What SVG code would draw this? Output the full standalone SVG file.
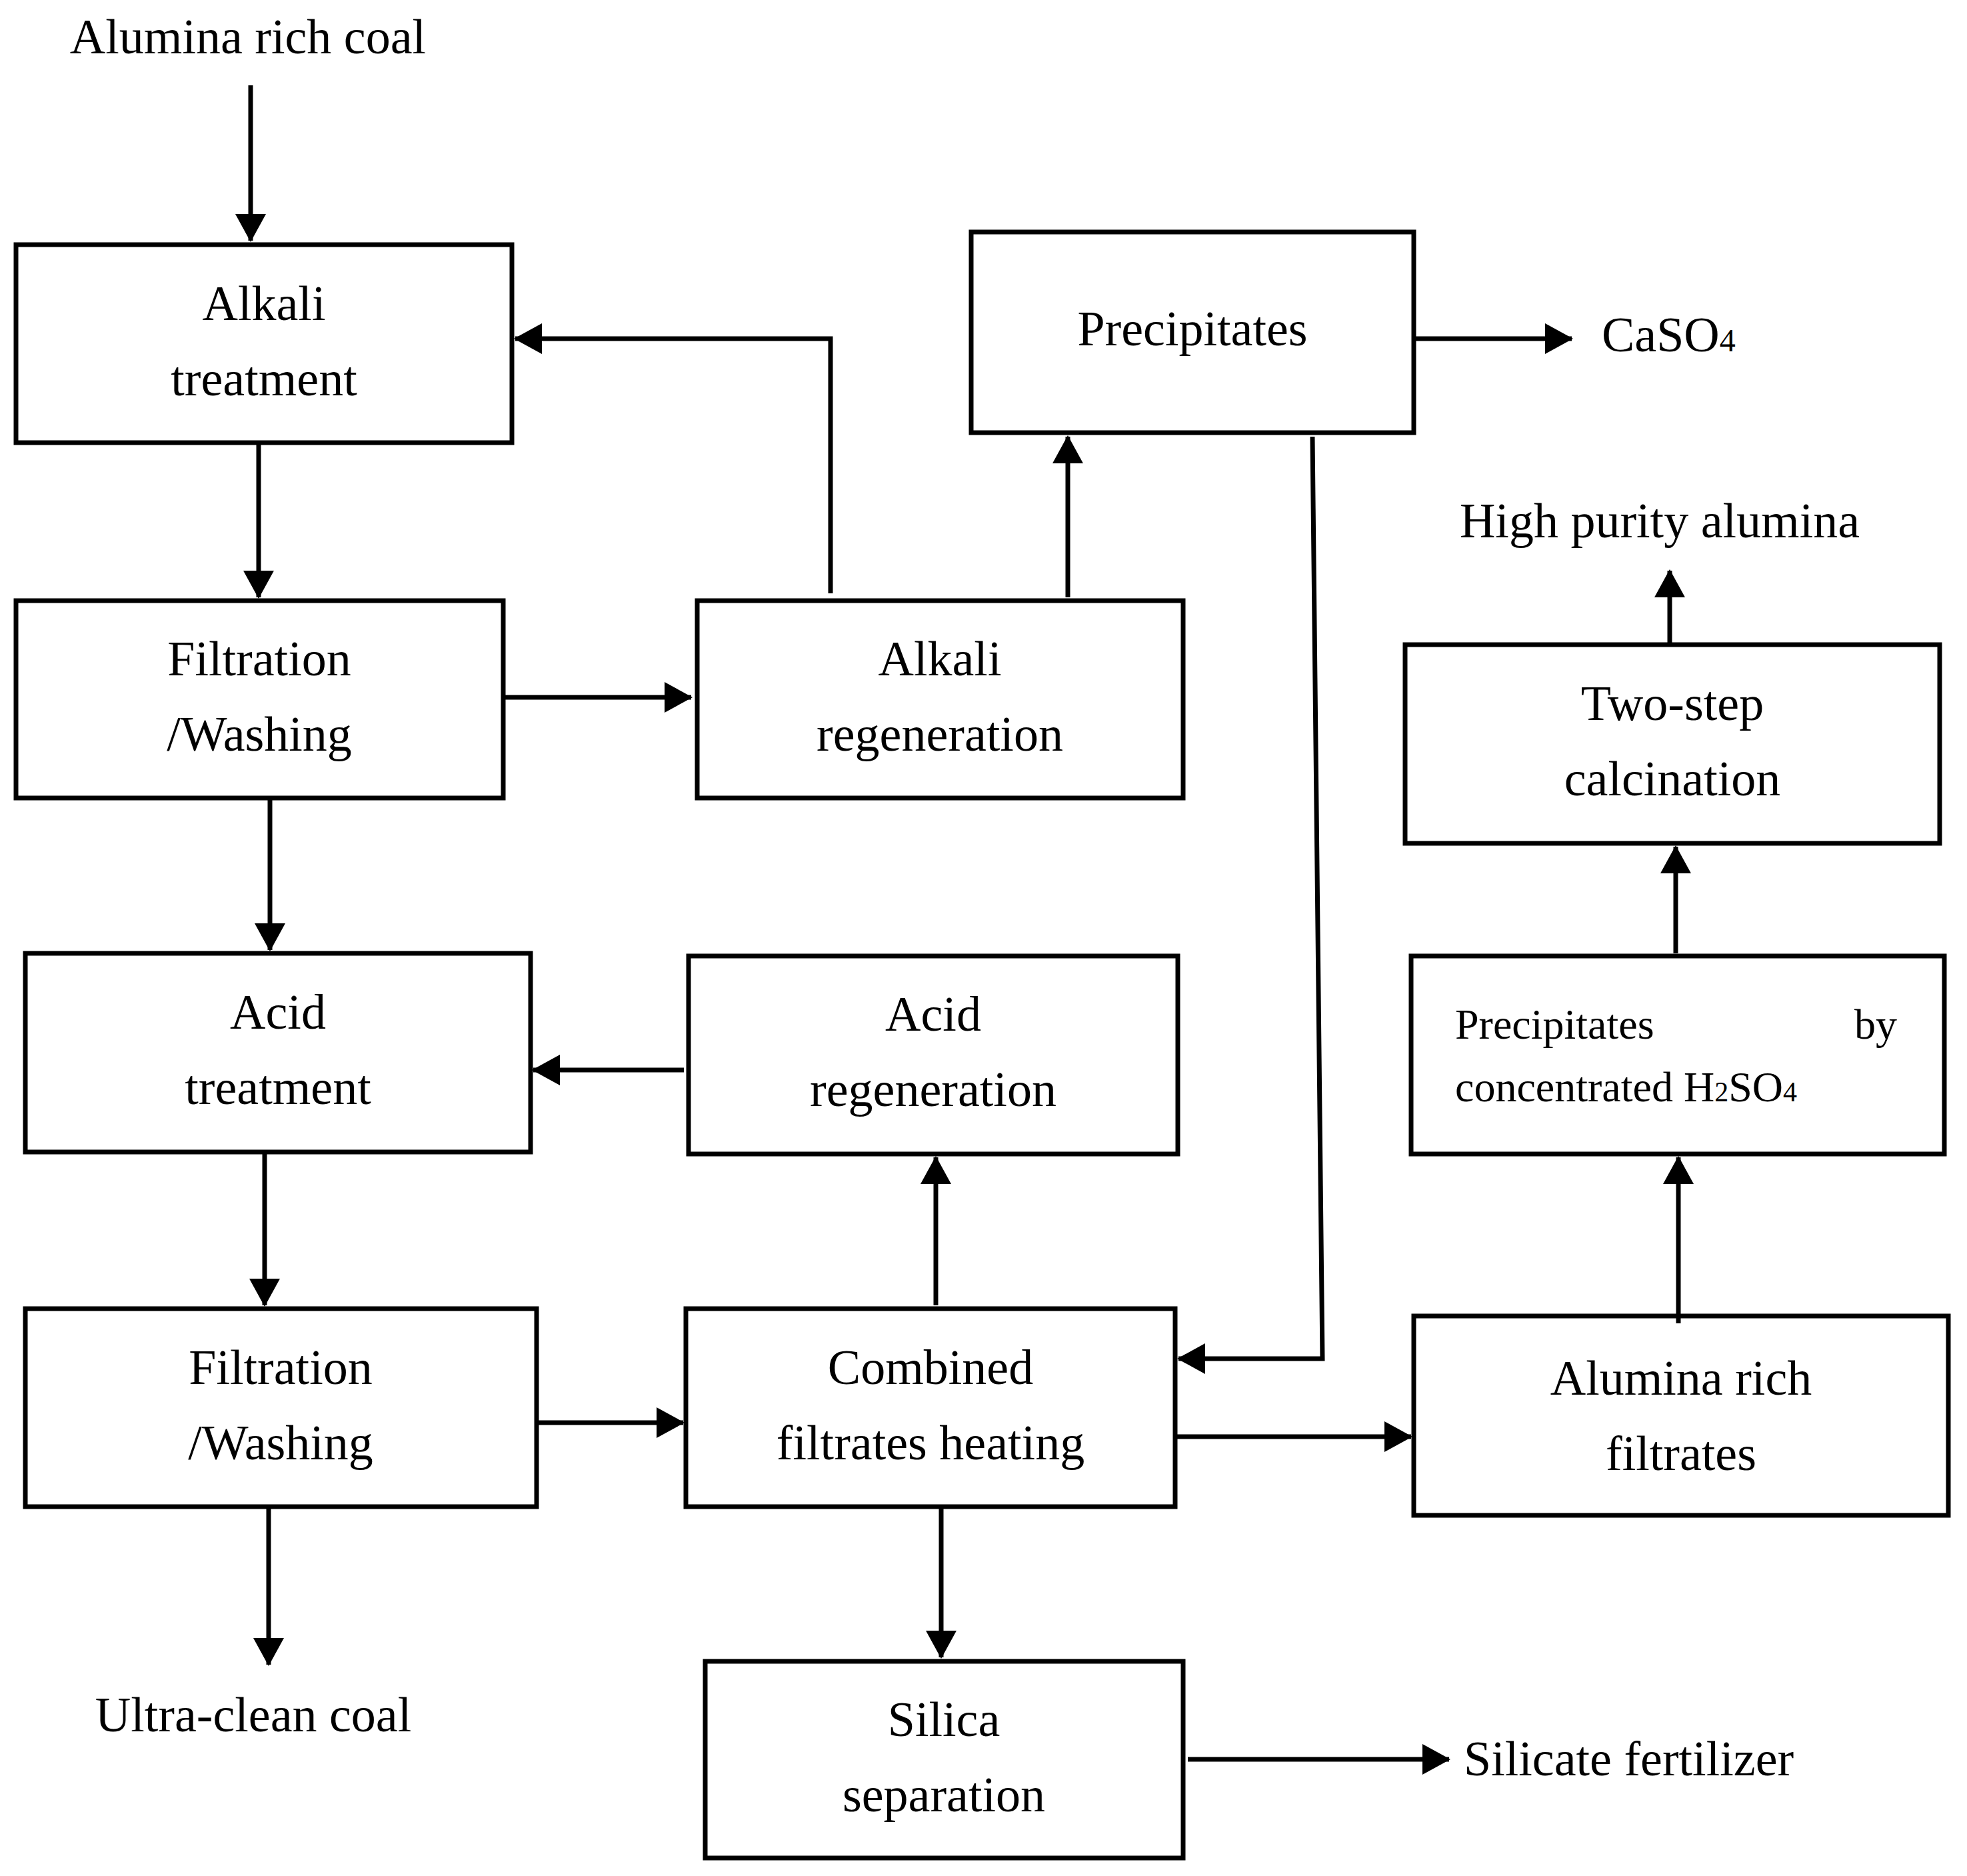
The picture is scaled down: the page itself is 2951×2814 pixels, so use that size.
<svg xmlns="http://www.w3.org/2000/svg" width="2951" height="2814" viewBox="0 0 2951 2814">
<style>
.b{fill:#fff;stroke:#000;stroke-width:7}
.t{font-family:"Liberation Serif",serif;font-size:74px;fill:#000;text-anchor:middle}
.s{font-family:"Liberation Serif",serif;font-size:64px;fill:#000}
.c path{fill:none;stroke:#000;stroke-width:7}
</style>
<defs><marker id="a" markerUnits="userSpaceOnUse" markerWidth="44" markerHeight="46" refX="40" refY="23" orient="auto"><path d="M0,0 L42,23 L0,46 Z" fill="#000"/></marker></defs>
<rect width="2951" height="2814" fill="#fff"/>
<text class="t" x="372" y="80">Alumina rich coal</text>
<text class="t" x="380" y="2597">Ultra-clean coal</text>
<text class="t" x="2490" y="806">High purity alumina</text>
<text class="t" x="2403" y="527" style="text-anchor:start">CaSO<tspan font-size="48">4</tspan></text>
<text class="t" x="2196" y="2663" style="text-anchor:start">Silicate fertilizer</text>
<g id="n1"><rect class="b" x="24" y="367" width="744" height="297"/><text class="t" x="396" y="480">Alkali</text><text class="t" x="396" y="593">treatment</text></g>
<g id="n2"><rect class="b" x="24" y="901" width="731" height="296"/><text class="t" x="389" y="1013">Filtration</text><text class="t" x="389" y="1126">/Washing</text></g>
<g id="n3"><rect class="b" x="38" y="1430" width="758" height="298"/><text class="t" x="417" y="1543">Acid</text><text class="t" x="417" y="1656">treatment</text></g>
<g id="n4"><rect class="b" x="38" y="1963" width="767" height="297"/><text class="t" x="421" y="2076">Filtration</text><text class="t" x="421" y="2189">/Washing</text></g>
<g id="n5"><rect class="b" x="1046" y="901" width="729" height="296"/><text class="t" x="1410" y="1013">Alkali</text><text class="t" x="1410" y="1126">regeneration</text></g>
<g id="n6"><rect class="b" x="1457" y="348" width="664" height="301"/><text class="t" x="1789" y="518">Precipitates</text></g>
<g id="n7"><rect class="b" x="1033" y="1434" width="734" height="297"/><text class="t" x="1400" y="1546">Acid</text><text class="t" x="1400" y="1659">regeneration</text></g>
<g id="n8"><rect class="b" x="1029" y="1963" width="734" height="297"/><text class="t" x="1396" y="2076">Combined</text><text class="t" x="1396" y="2189">filtrates heating</text></g>
<g id="n9"><rect class="b" x="1058" y="2492" width="717" height="295"/><text class="t" x="1416" y="2604">Silica</text><text class="t" x="1416" y="2717">separation</text></g>
<g id="n10"><rect class="b" x="2108" y="967" width="802" height="298"/><text class="t" x="2509" y="1080">Two-step</text><text class="t" x="2509" y="1193">calcination</text></g>
<g id="n11"><rect class="b" x="2117" y="1434" width="800" height="297"/><text class="s" x="2183" y="1558">Precipitates</text><text class="s" x="2846" y="1558" text-anchor="end">by</text><text class="s" x="2183" y="1652">concentrated H<tspan font-size="42">2</tspan>SO<tspan font-size="42">4</tspan></text></g>
<g id="n12"><rect class="b" x="2121" y="1974" width="802" height="299"/><text class="t" x="2522" y="2092">Alumina rich</text><text class="t" x="2522" y="2205">filtrates</text></g>
<g class="c" id="connectors">
<path d="M376,128V361" marker-end="url(#a)"/>
<path d="M388,664V896" marker-end="url(#a)"/>
<path d="M405,1197V1425" marker-end="url(#a)"/>
<path d="M397,1728V1958" marker-end="url(#a)"/>
<path d="M403,2260V2497" marker-end="url(#a)"/>
<path d="M755,1046H1037" marker-end="url(#a)"/>
<path d="M1246,890V508H773" marker-end="url(#a)"/>
<path d="M1602,896V655" marker-end="url(#a)"/>
<path d="M2121,508H2358" marker-end="url(#a)"/>
<path d="M1969,655L1984,2038H1768" marker-end="url(#a)"/>
<path d="M1026,1605H800" marker-end="url(#a)"/>
<path d="M1404,1958V1736" marker-end="url(#a)"/>
<path d="M805,2134H1025" marker-end="url(#a)"/>
<path d="M1763,2155H2117" marker-end="url(#a)"/>
<path d="M1412,2260V2486" marker-end="url(#a)"/>
<path d="M1782,2639H2174" marker-end="url(#a)"/>
<path d="M2518,1985V1736" marker-end="url(#a)"/>
<path d="M2514,1430V1270" marker-end="url(#a)"/>
<path d="M2505,967V856" marker-end="url(#a)"/>
</g>
</svg>
